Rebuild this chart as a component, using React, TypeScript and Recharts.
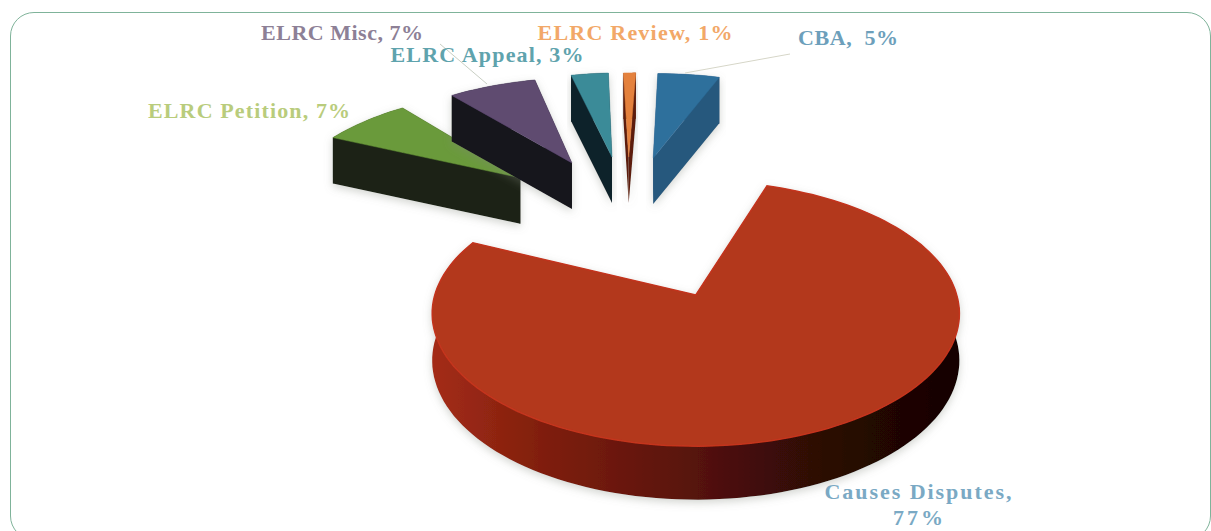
import { PieChart, Pie, Cell } from 'recharts';

const categories = ['CBA', 'Causes Disputes', 'ELRC Petition', 'ELRC Misc', 'ELRC Appeal', 'ELRC Review'];
const shares = [5, 77, 7, 7, 3, 1];
// how far each slice is pulled out of the pie, as a fraction of the radius
const explosions = [0.589, 0.714, 0.615, 0.595, 0.599, 0.592];

const topColors = ['#2f6f9c', '#b3371f', '#6b9a3a', '#5e4b70', '#3b8b98', '#e4813c'];
const faceColors = ['#25597d', '#5a140a', '#1b2415', '#17141f', '#0f222c', '#5c1e0a'];
const labelColors = ['#6d9fbb', '#7aa9c4', '#b9cc7c', '#8d8096', '#5fa3ad', '#f2a868'];

const chartData = categories.map((name, i) => ({ name, value: shares[i] }));

const WIDTH = 1211;
const HEIGHT = 531;

// perspective of the disc plane
const TILT = 0.498;
const FORESHORTEN = 0.14;
const ORIGIN_U = -0.2845;
const ORIGIN_V = 0.655;
const THICKNESS = 46;

const RAD = Math.PI / 180;

function raw(u: number, v: number, r: number) {
  const w = 1 / (1 + FORESHORTEN * v);
  return { x: r * u * w, y: -r * TILT * v * w, w };
}

function project(cx: number, cy: number, r: number, u: number, v: number, drop = 0) {
  const o = raw(ORIGIN_U, ORIGIN_V, r);
  const p = raw(ORIGIN_U + u, ORIGIN_V + v, r);
  return { x: cx + p.x - o.x, y: cy + p.y - o.y + drop * Math.max(p.w, 1) };
}

const toPath = (pts: { x: number; y: number }[]) =>
  pts.map((p, i) => `${i ? 'L' : 'M'}${p.x.toFixed(1)} ${p.y.toFixed(1)}`).join(' ') + ' Z';

function WedgeShape(props: any) {
  const { cx, cy, outerRadius, startAngle, endAngle, fill } = props;
  const name = props.name ?? props.payload?.name;
  const idx = categories.indexOf(name);
  const mid = ((startAngle + endAngle) / 2) * RAD;
  const ex = explosions[idx];
  const du = Math.cos(mid) * ex;
  const dv = Math.sin(mid) * ex;

  const steps = Math.max(6, Math.round(Math.abs(startAngle - endAngle) / 2));
  const rim = (drop: number) => {
    const pts = [];
    for (let i = 0; i <= steps; i++) {
      const a = (startAngle + ((endAngle - startAngle) * i) / steps) * RAD;
      pts.push(project(cx, cy, outerRadius, du + Math.cos(a), dv + Math.sin(a), drop));
    }
    return pts;
  };
  const apex = project(cx, cy, outerRadius, du, dv);
  const apexLow = project(cx, cy, outerRadius, du, dv, THICKNESS);
  const top = rim(0);
  const low = rim(THICKNESS);
  const wallFill = idx === 1 ? 'url(#redWall)' : faceColors[idx];

  return (
    <g filter="url(#softShadow)">
      <path d={toPath([...top, ...[...low].reverse()])} fill={wallFill} />
      <path d={toPath([apex, top[0], low[0], apexLow])} fill={faceColors[idx]} />
      <path d={toPath([apex, top[steps], low[steps], apexLow])} fill={faceColors[idx]} />
      <path
        d={toPath([apex, ...top])}
        fill={fill}
        stroke={idx === 1 ? '#c4341b' : fill}
        strokeWidth={idx === 1 ? 1.5 : 0.5}
      />
    </g>
  );
}

const labelSpots = [
  { x: 848, y: 45 },
  { x: 918, y: 499 },
  { x: 249, y: 118 },
  { x: 342, y: 40 },
  { x: 487, y: 62 },
  { x: 635, y: 40 },
];
const labelWidths = [100, 187, 202, 162, 193, 195];

function SliceLabel(props: any) {
  const idx = categories.indexOf(props.name);
  const spot = labelSpots[idx];
  const text = { fontFamily: '"Liberation Serif", serif', fontWeight: 700, fontSize: 22, whiteSpace: 'pre' as const };
  return (
    <g>
      {idx === 0 && <path d="M685 73 L790 54" stroke="#d6d6c8" strokeWidth={1} fill="none" />}
      {idx === 3 && <path d="M487 84 L440 44" stroke="#c9cfc4" strokeWidth={1} fill="none" />}
      {idx === 1 ? (
        <text x={spot.x} y={spot.y} textAnchor="middle" fill={labelColors[idx]} style={text}>
          <tspan x={spot.x} textLength={labelWidths[idx]}>{`${props.name},`}</tspan>
          <tspan x={spot.x} dy={26} textLength={50}>{`${props.value}%`}</tspan>
        </text>
      ) : (
        <text x={spot.x} y={spot.y} textAnchor="middle" fill={labelColors[idx]} textLength={labelWidths[idx]} style={text}>
          {idx === 0 ? `${props.name},  ${props.value}%` : `${props.name}, ${props.value}%`}
        </text>
      )}
    </g>
  );
}

export default function App() {
  return (
    <div style={{ position: 'absolute', left: 0, top: 0, width: WIDTH, height: HEIGHT, overflow: 'hidden', background: '#fff' }}>
      <div
        style={{
          position: 'absolute',
          left: 10,
          top: 12,
          width: 1201,
          height: 528,
          border: '1.5px solid #7fb39a',
          borderRadius: 24,
          boxSizing: 'border-box',
        }}
      />
      <div style={{ position: 'absolute', left: 0, top: 0 }}>
        <PieChart width={WIDTH} height={HEIGHT} margin={{ top: 0, right: 0, bottom: 0, left: 0 }}>
          <defs>
            <linearGradient id="redWall" gradientUnits="userSpaceOnUse" x1="432" y1="0" x2="960" y2="0">
              <stop offset="0" stopColor="#a42c15" />
              <stop offset="0.22" stopColor="#7e1e0e" />
              <stop offset="0.5" stopColor="#561209" />
              <stop offset="0.72" stopColor="#2e0906" />
              <stop offset="1" stopColor="#140403" />
            </linearGradient>
            <filter id="softShadow" x="-10%" y="-10%" width="120%" height="125%">
              <feDropShadow dx="0" dy="3" stdDeviation="4" floodColor="#7f857a" floodOpacity="0.35" />
            </filter>
          </defs>
          <Pie
            data={chartData}
            dataKey="value"
            nameKey="name"
            cx={628}
            cy={217}
            outerRadius={261}
            innerRadius={0}
            startAngle={90}
            endAngle={-270}
            stroke="none"
            isAnimationActive={false}
            shape={WedgeShape}
            label={SliceLabel}
            labelLine={false}
          >
            {chartData.map((entry, i) => (
              <Cell key={entry.name} fill={topColors[i]} />
            ))}
          </Pie>
        </PieChart>
      </div>
    </div>
  );
}
